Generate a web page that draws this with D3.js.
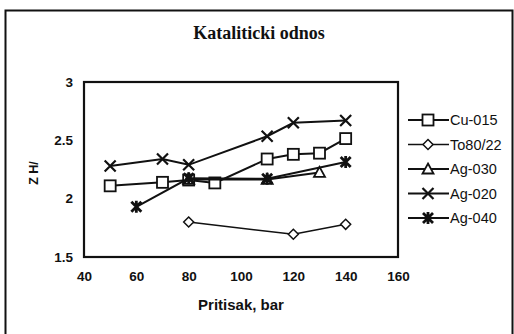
<!DOCTYPE html>
<html>
<head>
<meta charset="utf-8">
<script src="https://cdn.jsdelivr.net/npm/d3@7"></script>
<style>
  html, body { margin: 0; padding: 0; background: #fff; }
  svg { display: block; }
</style>
</head>
<body>
<svg id="chart" width="514" height="334"></svg>
<script>
// Catalytic ratio vs pressure
const seriesNames = ["Cu-015", "To80/22", "Ag-030", "Ag-020", "Ag-040"];
const cu015X = [50, 70, 80, 90, 110, 120, 130, 140];
const cu015Y = [2.11, 2.14, 2.16, 2.135, 2.34, 2.38, 2.39, 2.515];
const to8022X = [80, 120, 140];
const to8022Y = [1.80, 1.695, 1.78];
const ag030X = [80, 110, 130];
const ag030Y = [2.165, 2.165, 2.225];
const ag020X = [50, 70, 80, 110, 120, 140];
const ag020Y = [2.28, 2.34, 2.29, 2.535, 2.65, 2.67];
const ag040X = [60, 80, 110, 140];
const ag040Y = [1.93, 2.175, 2.17, 2.315];
const xTicks = [40, 60, 80, 100, 120, 140, 160];
const yTicks = [1.5, 2, 2.5, 3];

const markers = ["square", "diamond", "triangle", "x", "asterisk"];
const xs = [cu015X, to8022X, ag030X, ag020X, ag040X];
const ys = [cu015Y, to8022Y, ag030Y, ag020Y, ag040Y];
const series = seriesNames.map((name, i) => ({
  name, marker: markers[i],
  points: xs[i].map((x, j) => ({ x, y: ys[i][j] }))
}));

const svg = d3.select("#chart");
const plot = { left: 84, right: 398, top: 82, bottom: 257 };

const x = d3.scaleLinear().domain([40, 160]).range([plot.left, plot.right]);
const y = d3.scaleLinear().domain([1.5, 3]).range([plot.bottom, plot.top]);

// outer chart frame
svg.append("rect")
  .attr("x", 5.5).attr("y", 10.5).attr("width", 507).attr("height", 330)
  .attr("fill", "none").attr("stroke", "#111").attr("stroke-width", 2);

// title
svg.append("text")
  .attr("x", 259).attr("y", 39)
  .attr("text-anchor", "middle")
  .attr("font-family", "Liberation Serif, serif")
  .attr("font-weight", "bold").attr("font-size", 18)
  .attr("fill", "#111")
  .text("Kataliticki odnos");

// axes
const fontAxis = "Liberation Sans, Arial, sans-serif";
const xAxis = d3.axisBottom(x).tickValues(xTicks).tickSize(0).tickPadding(14);
const yAxis = d3.axisLeft(y).tickValues(yTicks).tickSize(0).tickPadding(11)
  .tickFormat(d3.format("~g"));

const gx = svg.append("g").attr("transform", `translate(0,${plot.bottom})`).call(xAxis);
const gy = svg.append("g").attr("transform", `translate(${plot.left},0)`).call(yAxis);
[gx, gy].forEach(g => {
  g.select(".domain").remove();
  g.selectAll("text")
    .attr("font-family", fontAxis).attr("font-weight", "bold")
    .attr("font-size", 13.5).attr("fill", "#111");
});

// plot frame
svg.append("rect")
  .attr("x", plot.left).attr("y", plot.top)
  .attr("width", plot.right - plot.left).attr("height", plot.bottom - plot.top)
  .attr("fill", "none").attr("stroke", "#111").attr("stroke-width", 2.2);

// axis titles
svg.append("text")
  .attr("x", 241).attr("y", 310)
  .attr("text-anchor", "middle")
  .attr("font-family", fontAxis).attr("font-weight", "bold")
  .attr("font-size", 15).attr("fill", "#111")
  .text("Pritisak, bar");

svg.append("text")
  .attr("transform", "translate(38,173) rotate(-90)")
  .attr("text-anchor", "middle")
  .attr("font-family", fontAxis).attr("font-weight", "bold")
  .attr("font-size", 12.5).attr("fill", "#111")
  .text("Z H/");

// marker drawing
function drawMarker(g, type, cx, cy) {
  const s = g.append("g").attr("transform", `translate(${cx},${cy})`);
  const st = { stroke: "#111", "stroke-width": 1.8 };
  const apply = sel => { Object.entries(st).forEach(([k, v]) => sel.attr(k, v)); return sel; };
  if (type === "square") {
    apply(s.append("rect").attr("x", -5.5).attr("y", -5.5).attr("width", 11).attr("height", 11).attr("fill", "#fff"));
  } else if (type === "diamond") {
    apply(s.append("path").attr("d", "M0,-5L5,0L0,5L-5,0Z").attr("fill", "#fff")).attr("stroke-width", 1.5);
  } else if (type === "triangle") {
    apply(s.append("path").attr("d", "M0,-5.5L5.5,4.5L-5.5,4.5Z").attr("fill", "#fff"));
  } else if (type === "x") {
    apply(s.append("path").attr("d", "M-5.5,-5.5L5.5,5.5M5.5,-5.5L-5.5,5.5").attr("fill", "none")).attr("stroke-width", 2.2);
  } else if (type === "asterisk") {
    apply(s.append("path").attr("d", "M-5,-5L5,5M5,-5L-5,5M0,-6L0,6").attr("fill", "none")).attr("stroke-width", 2.8);
  }
}

const line = d3.line().x(d => x(d.x)).y(d => y(d.y));

series.forEach(sr => {
  const g = svg.append("g");
  g.append("path").datum(sr.points)
    .attr("d", line).attr("fill", "none")
    .attr("stroke", "#111")
    .attr("stroke-width", sr.marker === "diamond" ? 1.5 : 2);
  sr.points.forEach(p => drawMarker(g, sr.marker, x(p.x), y(p.y)));
});

// legend
const legend = svg.append("g");
series.forEach((sr, i) => {
  const ly = 120 + i * 24.5;
  legend.append("line")
    .attr("x1", 408).attr("x2", 449).attr("y1", ly).attr("y2", ly)
    .attr("stroke", "#111").attr("stroke-width", sr.marker === "diamond" ? 1.5 : 2);
  drawMarker(legend, sr.marker, 428, ly);
  legend.append("text")
    .attr("x", 450).attr("y", ly + 5)
    .attr("font-family", fontAxis).attr("font-size", 14.5)
    .attr("fill", "#111")
    .text(sr.name);
});
</script>
</body>
</html>
